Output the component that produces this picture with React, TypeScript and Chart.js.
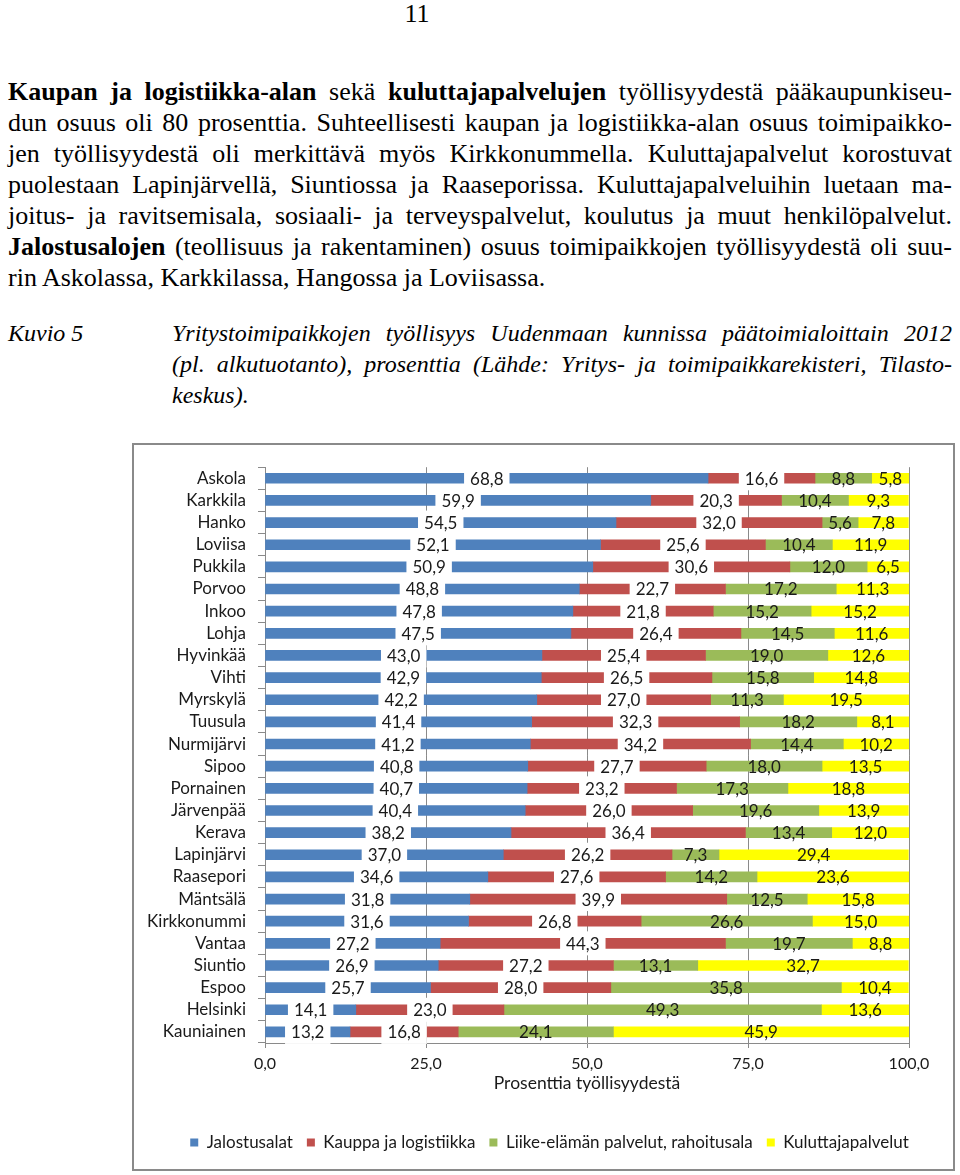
import React, { useEffect, useRef } from "react";
import { Chart, registerables } from "chart.js";

Chart.register(...registerables);

const municipalities = [
  "Askola", "Karkkila", "Hanko", "Loviisa", "Pukkila", "Porvoo", "Inkoo", "Lohja",
  "Hyvinkää", "Vihti", "Myrskylä", "Tuusula", "Nurmijärvi", "Sipoo", "Pornainen",
  "Järvenpää", "Kerava", "Lapinjärvi", "Raasepori", "Mäntsälä", "Kirkkonummi",
  "Vantaa", "Siuntio", "Espoo", "Helsinki", "Kauniainen",
];

const jalostusalat = [68.8, 59.9, 54.5, 52.1, 50.9, 48.8, 47.8, 47.5, 43.0, 42.9, 42.2, 41.4, 41.2, 40.8, 40.7, 40.4, 38.2, 37.0, 34.6, 31.8, 31.6, 27.2, 26.9, 25.7, 14.1, 13.2];
const kauppa = [16.6, 20.3, 32.0, 25.6, 30.6, 22.7, 21.8, 26.4, 25.4, 26.5, 27.0, 32.3, 34.2, 27.7, 23.2, 26.0, 36.4, 26.2, 27.6, 39.9, 26.8, 44.3, 27.2, 28.0, 23.0, 16.8];
const liikeelama = [8.8, 10.4, 5.6, 10.4, 12.0, 17.2, 15.2, 14.5, 19.0, 15.8, 11.3, 18.2, 14.4, 18.0, 17.3, 19.6, 13.4, 7.3, 14.2, 12.5, 26.6, 19.7, 13.1, 35.8, 49.3, 24.1];
const kuluttaja = [5.8, 9.3, 7.8, 11.9, 6.5, 11.3, 15.2, 11.6, 12.6, 14.8, 19.5, 8.1, 10.2, 13.5, 18.8, 13.9, 12.0, 29.4, 23.6, 15.8, 15.0, 8.8, 32.7, 10.4, 13.6, 45.9];

const seriesNames = ["Jalostusalat", "Kauppa ja logistiikka", "Liike-elämän palvelut, rahoitusala", "Kuluttajapalvelut"];
const seriesColors = ["#4F81BD", "#C0504D", "#9BBB59", "#FFFF00"];
const xTicks = [0, 25, 50, 75, 100];
const axisTitle = "Prosenttia työllisyydestä";

const fmt = (v: number) => v.toFixed(1).replace(".", ",");
const FONT = "Lato, 'Open Sans', sans-serif";

const segLabels = {
  id: "segLabels",
  afterDatasetsDraw(chart: any) {
    const ctx = chart.ctx;
    ctx.save();
    ctx.font = `17px ${FONT}`;
    ctx.textAlign = "center";
    ctx.textBaseline = "middle";
    chart.data.datasets.forEach((ds: any, di: number) => {
      const meta = chart.getDatasetMeta(di);
      meta.data.forEach((bar: any, i: number) => {
        const { x, y, base } = bar.getProps(["x", "y", "base"], true);
        const cx = (x + base) / 2;
        const txt = fmt(ds.data[i]);
        if (di < 2) {
          const w = ctx.measureText(txt).width + 12;
          ctx.fillStyle = "#ffffff";
          ctx.fillRect(cx - w / 2, y - 12, w, 24);
        }
        ctx.fillStyle = "#1a1a1a";
        ctx.fillText(txt, cx, y + 1);
      });
    });
    ctx.restore();
  },
};

function ChartBox() {
  const ref = useRef<HTMLCanvasElement>(null);
  useEffect(() => {
    if (!ref.current) return;
    const data = [jalostusalat, kauppa, liikeelama, kuluttaja];
    const chart = new Chart(ref.current, {
      type: "bar",
      data: {
        labels: municipalities,
        datasets: data.map((d, i) => ({
          label: seriesNames[i],
          data: d,
          backgroundColor: seriesColors[i],
          borderWidth: 0,
          barThickness: 10,
          xAxisID: "x",
          yAxisID: "y",
        })),
      },
      options: {
        indexAxis: "y",
        animation: false,
        responsive: false,
        maintainAspectRatio: false,
        layout: { padding: { top: 21, right: 0, left: 12, bottom: 8 } },
        plugins: {
          tooltip: { enabled: false },
          legend: {
            position: "bottom",
            labels: {
              boxWidth: 8,
              boxHeight: 8,
              padding: 14,
              color: "#1a1a1a",
              font: { family: FONT, size: 17 },
            },
          },
        },
        scales: {
          x: {
            stacked: true,
            min: 0,
            max: 100,
            afterBuildTicks: (s: any) => {
              s.ticks = xTicks.map((v) => ({ value: v }));
            },
            afterFit: (s: any) => {
              s.height = 77;
            },
            ticks: {
              callback: (v: any) => fmt(Number(v)),
              color: "#1a1a1a",
              font: { family: FONT, size: 16 },
              padding: 6,
            },
            grid: { color: "#8a8a8a", tickLength: 5, lineWidth: 1 },
            border: { color: "#8a8a8a" },
            title: {
              display: true,
              text: axisTitle,
              color: "#1a1a1a",
              font: { family: FONT, size: 17.5 },
              padding: { top: 4, bottom: 26 },
            },
          },
          y: {
            stacked: true,
            afterFit: (s: any) => {
              s.width = 119;
            },
            ticks: {
              color: "#1a1a1a",
              font: { family: FONT, size: 17 },
              padding: 12,
              autoSkip: false,
            },
            grid: { drawOnChartArea: false, drawTicks: true, tickLength: 7, color: "#8a8a8a", offset: true },
            border: { color: "#8a8a8a" },
          },
          yRight: {
            type: "category",
            position: "right",
            labels: municipalities,
            ticks: { display: false },
            grid: { display: false },
            border: { display: false },
            afterFit: (s: any) => {
              s.width = 44;
            },
          },
        },
      },
      plugins: [segLabels],
    });
    return () => chart.destroy();
  }, []);
  return <canvas ref={ref} width={819} height={724} style={{ display: "block" }} />;
}

const para = [
  [<b key="a">Kaupan ja logistiikka-alan</b>, " sekä ", <b key="b">kuluttajapalvelujen</b>, " työllisyydestä pääkaupunkiseu-"],
  ["dun osuus oli 80 prosenttia. Suhteellisesti kaupan ja logistiikka-alan osuus toimipaikko-"],
  ["jen työllisyydestä oli merkittävä myös Kirkkonummella. Kuluttajapalvelut korostuvat"],
  ["puolestaan Lapinjärvellä, Siuntiossa ja Raaseporissa. Kuluttajapalveluihin luetaan ma-"],
  ["joitus- ja ravitsemisala, sosiaali- ja terveyspalvelut, koulutus ja muut henkilöpalvelut."],
  [<b key="c">Jalostusalojen</b>, " (teollisuus ja rakentaminen) osuus toimipaikkojen työllisyydestä oli suu-"],
];
const lastLine = "rin Askolassa, Karkkilassa, Hangossa ja Loviisassa.";
const captionLines = [
  "Yritystoimipaikkojen työllisyys Uudenmaan kunnissa päätoimialoittain 2012",
  "(pl. alkutuotanto), prosenttia (Lähde: Yritys- ja toimipaikkarekisteri, Tilasto-",
];
const captionLast = "keskus).";

export default function App() {
  const serif = "'Liberation Serif', 'Times New Roman', serif";
  const just: React.CSSProperties = { textAlign: "justify", textAlignLast: "justify", whiteSpace: "nowrap", fontFamily: serif };
  return (
    <div style={{ fontFamily: serif, fontSize: 26, color: "#000" }}>
      <div style={{ position: "absolute", left: 317, top: -2, width: 200, textAlign: "center", lineHeight: "31px" }}>11</div>
      <div style={{ position: "absolute", left: 8, top: 76, width: 944, lineHeight: "31px", fontFamily: serif }}>
        {para.map((l, i) => (
          <div key={i} style={just}>{l}</div>
        ))}
        <div style={{ fontFamily: serif }}>{lastLine}</div>
      </div>
      <div style={{ position: "absolute", left: 8, top: 318, lineHeight: "31px", fontStyle: "italic", fontFamily: serif, fontSize: 24 }}>Kuvio 5</div>
      <div style={{ position: "absolute", left: 172, top: 318, width: 780, lineHeight: "31px", fontStyle: "italic", fontFamily: serif, fontSize: 24 }}>
        {captionLines.map((l, i) => (
          <div key={i} style={just}>{l}</div>
        ))}
        <div>{captionLast}</div>
      </div>
      <div
        style={{
          position: "absolute",
          left: 132,
          top: 443,
          width: 823,
          height: 728,
          border: "2px solid #8a8a8a",
          boxSizing: "border-box",
          background: "#fff",
        }}
      >
        <ChartBox />
      </div>
    </div>
  );
}
